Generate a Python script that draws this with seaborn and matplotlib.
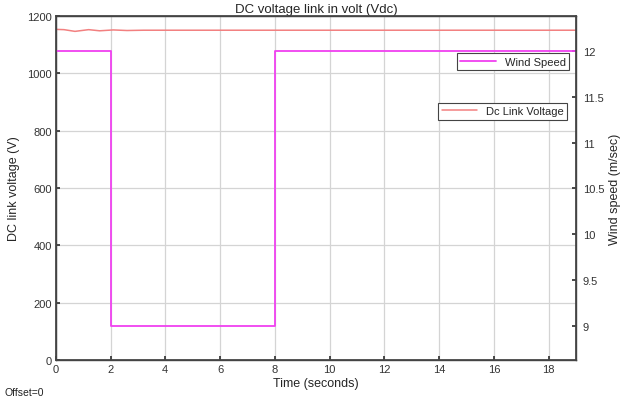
import matplotlib
matplotlib.use("Agg")
import matplotlib.pyplot as plt
import seaborn as sns
import pandas as pd

# values
volt_time = [0, 0.3, 0.7, 1.2, 1.6, 2.1, 2.6, 3.2, 4, 6, 8, 10, 12, 14, 16, 18, 19]
volt_value = [1153, 1152, 1146, 1152, 1148, 1151, 1149, 1150, 1150, 1150, 1150, 1150, 1150, 1150, 1150, 1150, 1150]
wind_time = [0, 2, 8, 19]
wind_speed = [12, 9, 12, 12]

volt_df = pd.DataFrame({"time": volt_time, "volt": volt_value})
wind_df = pd.DataFrame({"time": wind_time, "wind": wind_speed})

sns.set_theme(style="whitegrid")
plt.rcParams["font.family"] = ["Liberation Sans", "DejaVu Sans"]

fig, ax = plt.subplots(figsize=(6.2, 4.02), dpi=100)
fig.subplots_adjust(left=0.09, right=0.929, top=0.958, bottom=0.102)

sns.lineplot(data=volt_df, x="time", y="volt", ax=ax, color="#f28080", lw=1.1,
             label="Dc Link Voltage")
ax.set_xlim(0, 19)
ax.set_ylim(0, 1200)
ax.set_xticks(range(0, 19, 2))
ax.set_yticks(range(0, 1201, 200))
ax.set_xlabel("Time (seconds)", fontsize=9, labelpad=2)
ax.set_ylabel("DC link voltage (V)", fontsize=9, labelpad=5)
ax.set_title("DC voltage link in volt (Vdc)", fontsize=9.5, pad=3)
ax.grid(True, color="#d4d4d4", lw=0.9)
ax.tick_params(labelsize=8, length=3, pad=3, colors="#333333", direction="in")
ax.tick_params(axis="both", which="both", left=True, bottom=True)
for s in ax.spines.values():
    s.set_color("#444444")
    s.set_linewidth(1.0)
ax.set_facecolor("white")

ax2 = ax.twinx()
sns.lineplot(data=wind_df, x="time", y="wind", ax=ax2, color="#f040f0", lw=1.3,
             drawstyle="steps-post", label="Wind Speed")
ax2.set_ylim(8.63, 12.38)
ax2.set_yticks([9, 9.5, 10, 10.5, 11, 11.5, 12])
ax2.set_yticklabels(["9", "9.5", "10", "10.5", "11", "11.5", "12"])
ax2.set_ylabel("Wind speed (m/sec)", fontsize=9, labelpad=3)
ax2.grid(False)
ax2.tick_params(labelsize=8, length=3, pad=5, colors="#333333", direction="in", right=True)
for s in ax2.spines.values():
    s.set_color("#444444")

leg1 = ax.legend(loc="upper right", bbox_to_anchor=(0.994, 0.763), fontsize=8,
                 fancybox=False, edgecolor="#444444", framealpha=1,
                 borderpad=0.3, handlelength=3.2)
leg1.get_frame().set_linewidth(0.8)
leg2 = ax2.legend(loc="upper right", bbox_to_anchor=(0.997, 0.907), fontsize=8,
                  fancybox=False, edgecolor="#444444", framealpha=1,
                  borderpad=0.3, handlelength=3.2)
leg2.get_frame().set_linewidth(0.8)

fig.text(0.008, 0.015, "Offset=0", fontsize=7.5, color="#222222")

fig.savefig("out.png", dpi=100)
